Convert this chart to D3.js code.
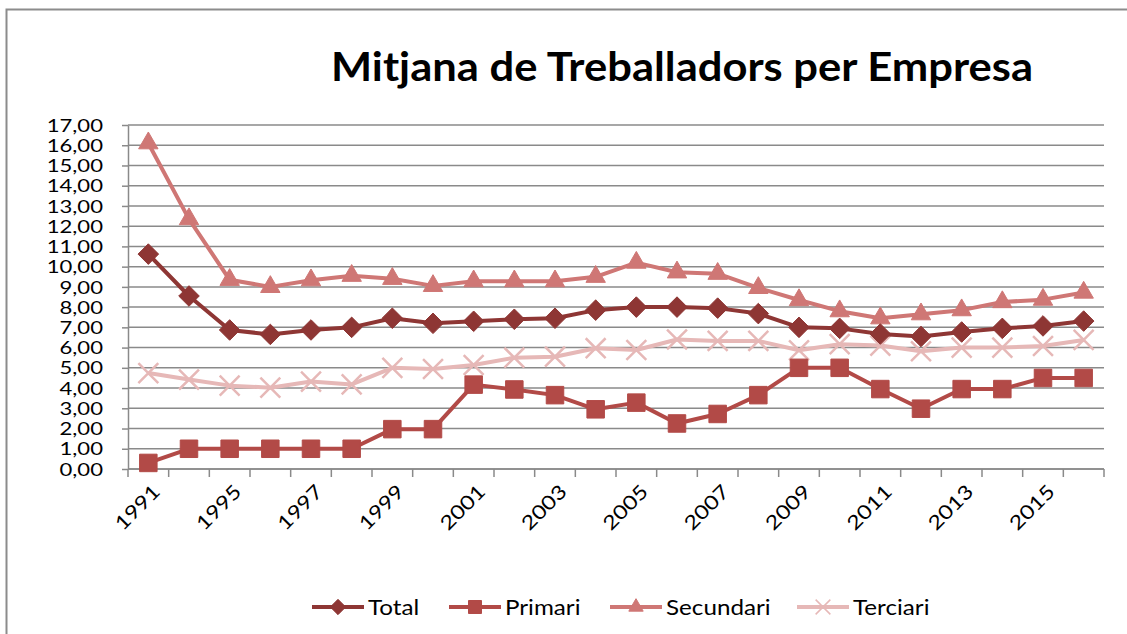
<!DOCTYPE html>
<html>
<head>
  <script src="https://d3js.org/d3.v7.min.js"></script>
  <style>
    body { margin: 0; background: #fff; }
    text { font-family: "Lato", "Open Sans", sans-serif; fill: #000; }
  </style>
</head>
<body>
  <script>
    const years = ["1991", "1993", "1995", "1996", "1997", "1998", "1999", "2000", "2001", "2002", "2003",
      "2004", "2005", "2006", "2007", "2008", "2009", "2010", "2011", "2012", "2013", "2014", "2015", "2016"];
    const total = [10.62, 8.55, 6.87, 6.65, 6.87, 7.0, 7.45, 7.2, 7.3, 7.4, 7.45, 7.85,
      8.0, 8.0, 7.95, 7.68, 7.0, 6.95, 6.67, 6.55, 6.77, 6.95, 7.07, 7.31];
    const primari = [0.3, 1, 1, 1, 1, 1, 1.97, 1.97, 4.17, 3.93, 3.65, 2.95,
      3.28, 2.25, 2.72, 3.65, 5.0, 5.0, 3.95, 2.98, 3.95, 3.95, 4.5, 4.5];
    const secundari = [16.1, 12.35, 9.35, 9.0, 9.33, 9.55, 9.4, 9.05, 9.28, 9.28, 9.28, 9.5,
      10.2, 9.72, 9.65, 8.95, 8.35, 7.8, 7.45, 7.65, 7.85, 8.25, 8.37, 8.72];
    const terciari = [4.74, 4.42, 4.12, 4.02, 4.32, 4.18, 5.0, 4.94, 5.14, 5.5, 5.55, 5.97,
      5.88, 6.4, 6.33, 6.33, 5.87, 6.17, 6.1, 5.82, 6.0, 6.0, 6.08, 6.38];
    const seriesNames = ["Total", "Primari", "Secundari", "Terciari"];
    const yTicks = d3.range(0, 18);

    const width = 1127;
    const height = 634;
    const margin = { left: 128, right: 23, top: 125, bottom: 165 };

    const svg = d3.select("body")
      .append("svg")
      .attr("width", width)
      .attr("height", height);

    // outer chart frame
    svg.append("rect")
      .attr("x", 6.5).attr("y", 9.5)
      .attr("width", width + 20).attr("height", height + 20)
      .attr("fill", "#fff")
      .attr("stroke", "#8c8c8c")
      .attr("stroke-width", 2);

    svg.append("text")
      .attr("x", 331)
      .attr("y", 81)
      .attr("font-size", "40px")
      .attr("font-weight", "bold")
      .attr("textLength", 702)
      .attr("lengthAdjust", "spacingAndGlyphs")
      .text("Mitjana de Treballadors per Empresa");

    const x = d3.scaleBand()
      .domain(years)
      .range([margin.left, width - margin.right]);

    const y = d3.scaleLinear()
      .domain([0, 17])
      .range([height - margin.bottom, margin.top]);

    // stretch text a bit to mimic the wide rendering of the original
    function stretch(sel, k) {
      sel.each(function () {
        const len = this.getComputedTextLength();
        d3.select(this).attr("textLength", len * k).attr("lengthAdjust", "spacingAndGlyphs");
      });
    }

    // gridlines
    svg.append("g")
      .selectAll("line")
      .data(yTicks)
      .join("line")
      .attr("x1", margin.left)
      .attr("x2", width - margin.right)
      .attr("y1", d => y(d))
      .attr("y2", d => y(d))
      .attr("stroke", "#8a8a8a")
      .attr("stroke-width", 1.5);

    // y axis
    const yAxis = svg.append("g")
      .attr("transform", `translate(${margin.left},0)`)
      .call(d3.axisLeft(y)
        .tickValues(yTicks)
        .tickSize(6)
        .tickSizeOuter(0)
        .tickFormat(d => d3.format(".2f")(d).replace(".", ",")));
    yAxis.select(".domain").attr("stroke", "#8a8a8a").attr("stroke-width", 1.5);
    yAxis.selectAll(".tick line").attr("stroke", "#8a8a8a").attr("stroke-width", 1.5);
    yAxis.selectAll(".tick text")
      .attr("x", -25)
      .attr("dy", "0.36em")
      .attr("font-size", "17px")
      .attr("fill", "#000")
      .call(stretch, 1.3);

    // x axis: line, boundary ticks, labels
    const xAxis = svg.append("g");
    xAxis.append("line")
      .attr("x1", margin.left)
      .attr("x2", width - margin.right)
      .attr("y1", y(0))
      .attr("y2", y(0))
      .attr("stroke", "#8a8a8a")
      .attr("stroke-width", 1.5);
    xAxis.selectAll(".bt")
      .data(d3.range(years.length + 1))
      .join("line")
      .attr("class", "bt")
      .attr("x1", i => margin.left + i * x.step())
      .attr("x2", i => margin.left + i * x.step())
      .attr("y1", y(0))
      .attr("y2", y(0) + 8)
      .attr("stroke", "#8a8a8a")
      .attr("stroke-width", 1.5);
    xAxis.selectAll(".xl")
      .data(years.filter((d, i) => i % 2 === 0))
      .join("text")
      .attr("class", "xl")
      .attr("text-anchor", "end")
      .attr("font-size", "19.5px")
      .attr("transform", d => `translate(${x(d) + x.bandwidth() / 2 + 13},${y(0) + 24}) rotate(-45)`)
      .text(d => d)
      .call(stretch, 1.2);

    const colors = ["#8e3634", "#b24a47", "#cf7775", "#e6b8b7"];
    const data = [total, primari, secundari, terciari];
    const symbolTypes = [d3.symbolDiamond2, d3.symbolSquare2, d3.symbolTriangle2, d3.symbolX];
    const symbolSizes = [270, 390, 270, 260];

    const line = d3.line()
      .x((d, i) => x(years[i]) + x.bandwidth() / 2)
      .y(d => y(d));

    // draw Terciari first so darker series sit on top
    [3, 2, 1, 0].forEach(s => {
      const g = svg.append("g");
      g.append("path")
        .datum(data[s])
        .attr("d", line)
        .attr("fill", "none")
        .attr("stroke", colors[s])
        .attr("stroke-width", 4)
        .attr("stroke-linejoin", "round");
      g.selectAll("path.m")
        .data(data[s])
        .join("path")
        .attr("class", "m")
        .attr("d", d3.symbol().type(symbolTypes[s]).size(symbolSizes[s])())
        .attr("transform", (d, i) => `translate(${x(years[i]) + x.bandwidth() / 2},${y(d)})`)
        .attr("fill", s === 3 ? "none" : colors[s])
        .attr("stroke", colors[s])
        .attr("stroke-width", s === 3 ? 2.5 : 1);
    });

    // legend
    const legendX = [312, 449, 610, 797];
    const legend = svg.append("g");
    const items = legend.selectAll("g")
      .data(seriesNames)
      .join("g")
      .attr("transform", (d, i) => `translate(${legendX[i]},607)`);
    items.append("line")
      .attr("x1", 0).attr("x2", 52)
      .attr("stroke", (d, i) => colors[i])
      .attr("stroke-width", 4);
    items.append("path")
      .attr("d", (d, i) => d3.symbol().type(symbolTypes[i]).size(symbolSizes[i] * 0.55)())
      .attr("transform", "translate(26,0)")
      .attr("fill", (d, i) => i === 3 ? "none" : colors[i])
      .attr("stroke", (d, i) => colors[i])
      .attr("stroke-width", (d, i) => i === 3 ? 1.5 : 1);
    items.append("text")
      .attr("x", 56)
      .attr("dy", "0.36em")
      .attr("font-size", "22px")
      .text(d => d)
      .call(stretch, 1.1);
  </script>
</body>
</html>
